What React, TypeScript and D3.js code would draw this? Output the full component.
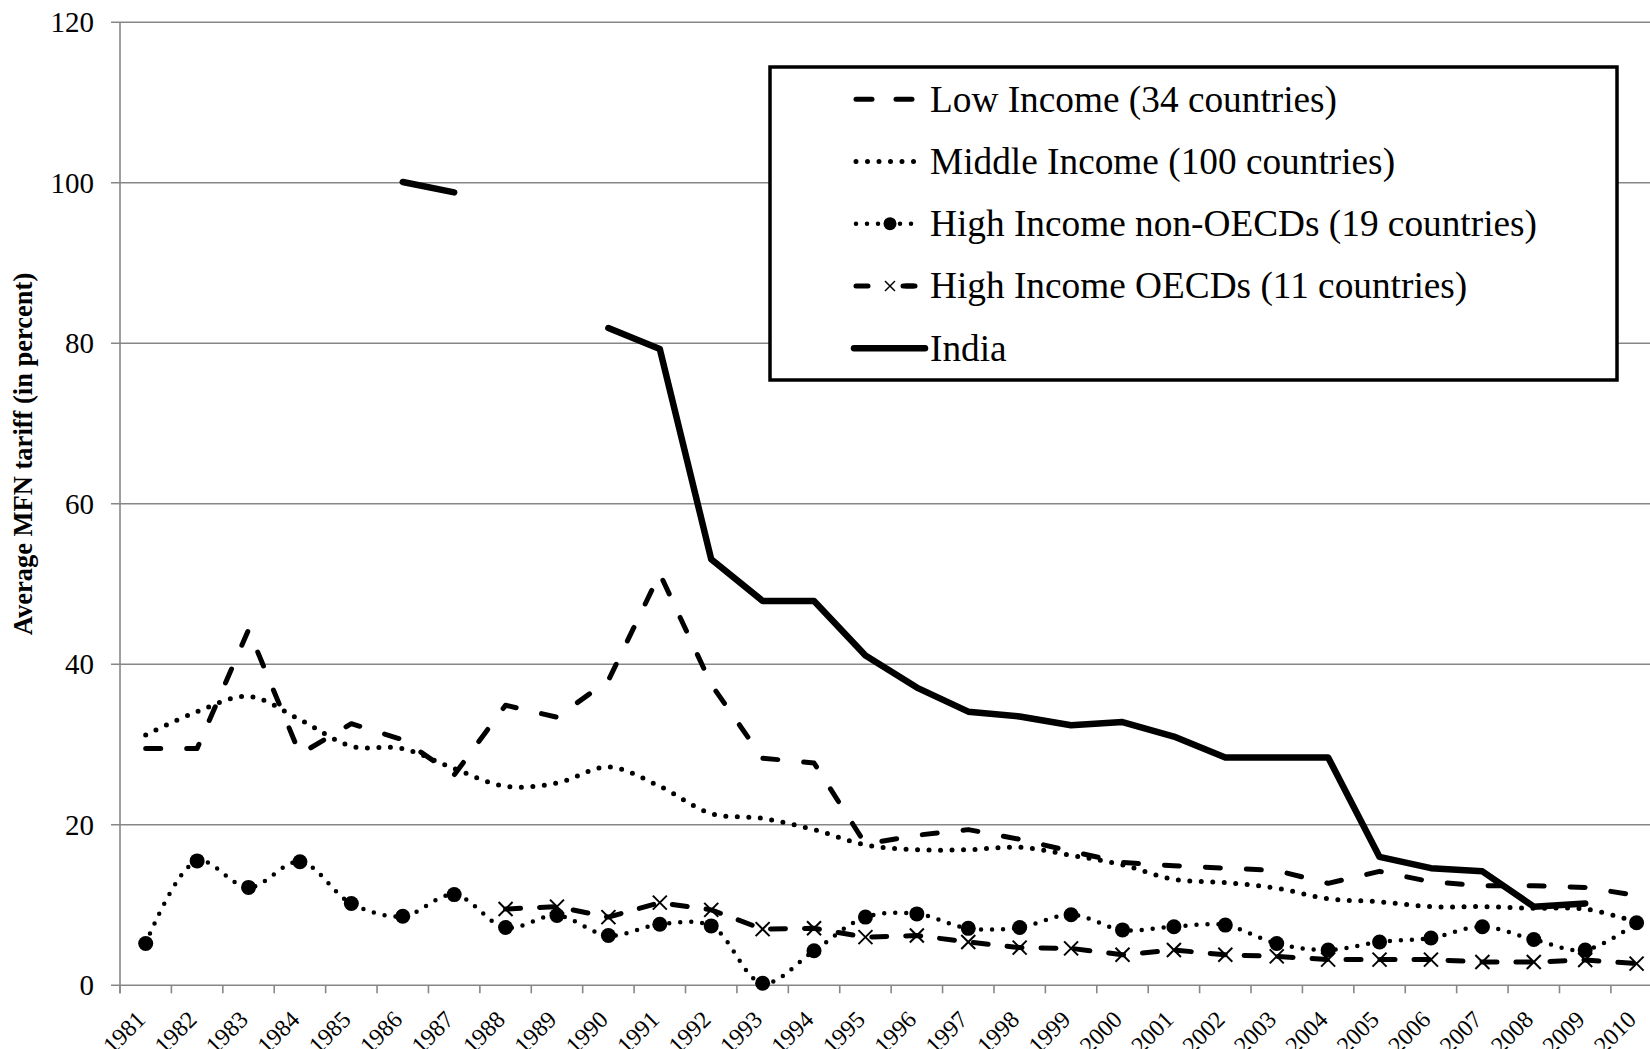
import React from "react";
import * as d3 from "d3";

const years = [
  "1981", "1982", "1983", "1984", "1985", "1986", "1987", "1988", "1989", "1990",
  "1991", "1992", "1993", "1994", "1995", "1996", "1997", "1998", "1999", "2000",
  "2001", "2002", "2003", "2004", "2005", "2006", "2007", "2008", "2009", "2010",
];
const yTicks = [0, 20, 40, 60, 80, 100, 120];

const lowIncome = [
  29.5, 29.5, 44.3, 28.8, 32.6, 30.6, 26.2, 34.9, 33.4, 38.0,
  51.3, 37.5, 28.3, 27.7, 17.6, 18.7, 19.4, 18.2, 16.7, 15.3,
  14.9, 14.6, 14.3, 12.7, 14.2, 12.9, 12.4, 12.4, 12.2, 11.2,
];
const middleIncome = [
  31.2, 34.1, 36.0, 33.1, 29.8, 29.5, 27.0, 24.8, 25.2, 27.2,
  24.8, 21.4, 20.8, 19.4, 17.5, 16.9, 16.9, 17.2, 16.2, 15.0,
  13.2, 12.8, 12.1, 10.8, 10.4, 9.8, 9.8, 9.6, 9.5, 7.9,
];
const highNonOECD = [
  5.2, 15.5, 12.2, 15.4, 10.2, 8.6, 11.3, 7.2, 8.7, 6.2,
  7.6, 7.4, 0.25, 4.3, 8.5, 8.9, 7.1, 7.2, 8.8, 6.9,
  7.3, 7.5, 5.2, 4.4, 5.4, 5.9, 7.3, 5.7, 4.4, 7.8,
];
const highOECD: (number | null)[] = [
  null, null, null, null, null, null, null, 9.5, 9.8, 8.5,
  10.3, 9.4, 7.0, 7.1, 6.0, 6.2, 5.4, 4.7, 4.6, 3.8,
  4.4, 3.8, 3.6, 3.2, 3.2, 3.2, 2.9, 2.9, 3.15, 2.7,
];
const india: (number | null)[] = [
  null, null, null, null, null, 100.1, 98.8, null, null, 81.9,
  79.3, 53.1, 47.9, 47.9, 41.1, 37.1, 34.1, 33.5, 32.4, 32.8,
  31.0, 28.4, 28.4, 28.4, 16.0, 14.6, 14.2, 9.8, 10.2, null,
];

const legendLabels = [
  "Low Income (34 countries)",
  "Middle Income (100 countries)",
  "High Income non-OECDs (19 countries)",
  "High Income OECDs (11 countries)",
  "India",
];

const W = 1650;
const H = 1049;
const X0 = 120;
const X1 = 1662.3;
const Y0 = 985.3;
const Y1 = 22.3;
const FONT = "'Liberation Serif', 'Times New Roman', serif";
const GRID = "#878787";

const styles = {
  low: { width: 5, dash: "15 26", cap: "round" },
  mid: { width: 5, dash: "0 11.5", cap: "round" },
  non: { width: 4.5, dash: "0 11", cap: "round" },
  oecd: { width: 5, dash: "15 19", cap: "round" },
  india: { width: 6.5, dash: "none", cap: "round" },
};

function XMark({ x, y, s = 7, w = 2 }: { x: number; y: number; s?: number; w?: number }) {
  return (
    <g stroke="#000" strokeWidth={w}>
      <line x1={x - s} y1={y - s} x2={x + s} y2={y + s} />
      <line x1={x - s} y1={y + s} x2={x + s} y2={y - s} />
    </g>
  );
}

export default function App() {
  const x = d3.scaleBand<string>().domain(years).range([X0, X1]).padding(0);
  const cx = (yr: string) => (x(yr) as number) + x.bandwidth() / 2;
  const y = d3.scaleLinear().domain([0, 120]).range([Y0, Y1]);

  const mk = (vals: (number | null)[], curve: d3.CurveFactory) =>
    d3
      .line<[string, number | null]>()
      .defined((d) => d[1] != null)
      .x((d) => cx(d[0]))
      .y((d) => y(d[1] as number))
      .curve(curve)(years.map((yr, i) => [yr, vals[i]] as [string, number | null])) || "";

  const smooth = d3.curveCatmullRom.alpha(0.5);

  const series = [
    { key: "low", d: mk(lowIncome, d3.curveLinear), st: styles.low },
    { key: "mid", d: mk(middleIncome, smooth), st: styles.mid },
    { key: "non", d: mk(highNonOECD, smooth), st: styles.non },
    { key: "oecd", d: mk(highOECD, d3.curveLinear), st: styles.oecd },
    { key: "india", d: mk(india, d3.curveLinear), st: styles.india },
  ];

  const boundaries = years.map((yr) => x(yr) as number).concat([X1]);

  // legend geometry
  const LX = 770, LY = 67, LW = 847, LH = 313;
  const rowY = [99.3, 161.5, 223.7, 286, 348.2];
  const sx0 = 854, sx1 = 925, smid = 890;
  const legendStyles = [styles.low, styles.mid, styles.non, styles.oecd, styles.india];

  return (
    <svg
      width={W}
      height={H}
      viewBox={`0 0 ${W} ${H}`}
      style={{ position: "absolute", left: 0, top: 0, display: "block", background: "#fff" }}
      fontFamily={FONT}
    >
      <rect x={0} y={0} width={W} height={H} fill="#fff" />
      {/* gridlines */}
      {yTicks.map((t) => (
        <g key={t}>
          <line x1={X0 - 9} x2={X1} y1={y(t)} y2={y(t)} stroke={GRID} strokeWidth={1.6} />
          <text x={94} y={y(t)} dy="0.34em" textAnchor="end" fontSize={29} fill="#000">
            {t}
          </text>
        </g>
      ))}
      {/* y axis */}
      <line x1={X0} x2={X0} y1={Y1} y2={Y0 + 8} stroke={GRID} strokeWidth={1.6} />
      {/* x ticks */}
      {boundaries.map((b, i) => (
        <line key={i} x1={b} x2={b} y1={Y0} y2={Y0 + 8} stroke={GRID} strokeWidth={1.6} />
      ))}
      {/* x labels */}
      {years.map((yr) => (
        <text
          key={yr}
          transform={`translate(${cx(yr) + 1},${1021}) rotate(-45)`}
          textAnchor="end"
          fontSize={24}
          fill="#000"
        >
          {yr}
        </text>
      ))}
      {/* y title */}
      <text
        transform={`translate(31.5,${454}) rotate(-90)`}
        textAnchor="middle"
        fontSize={26.5}
        fontWeight="bold"
        fill="#000"
      >
        Average MFN tariff (in percent)
      </text>
      {/* series */}
      {series.map((s) => (
        <path
          key={s.key}
          d={s.d}
          fill="none"
          stroke="#000"
          strokeWidth={s.st.width}
          strokeDasharray={s.st.dash}
          strokeLinecap={s.st.cap as any}
          strokeLinejoin="round"
        />
      ))}
      {/* markers */}
      {years.map((yr, i) => (
        <circle key={"c" + yr} cx={cx(yr)} cy={y(highNonOECD[i])} r={7.5} fill="#000" />
      ))}
      {years.map((yr, i) =>
        highOECD[i] == null ? null : <XMark key={"x" + yr} x={cx(yr)} y={y(highOECD[i] as number)} />
      )}
      {/* legend */}
      <rect x={LX} y={LY} width={LW} height={LH} fill="#fff" stroke="#000" strokeWidth={3.5} />
      {legendLabels.map((lab, i) => {
        const st = legendStyles[i];
        return (
          <g key={lab}>
            <line
              x1={i === 4 ? sx0 : sx0 + 2}
              x2={i === 4 ? sx1 : sx1 - 10}
              y1={rowY[i]}
              y2={rowY[i]}
              stroke="#000"
              strokeWidth={st.width}
              strokeDasharray={i === 0 ? "16 24" : i === 3 ? "12 38" : st.dash}
              strokeLinecap={st.cap as any}
            />
            {i === 3 && (
              <line x1={sx1 - 22} x2={sx1 - 12} y1={rowY[i]} y2={rowY[i]} stroke="#000" strokeWidth={5} strokeLinecap="round" />
            )}
            {i === 2 && <circle cx={smid} cy={rowY[i]} r={6.5} fill="#000" />}
            {i === 3 && <XMark x={smid} y={rowY[i]} s={5} w={1.5} />}
            <text x={930} y={rowY[i] + 12.4} fontSize={37.3} fill="#000">
              {lab}
            </text>
          </g>
        );
      })}
    </svg>
  );
}
